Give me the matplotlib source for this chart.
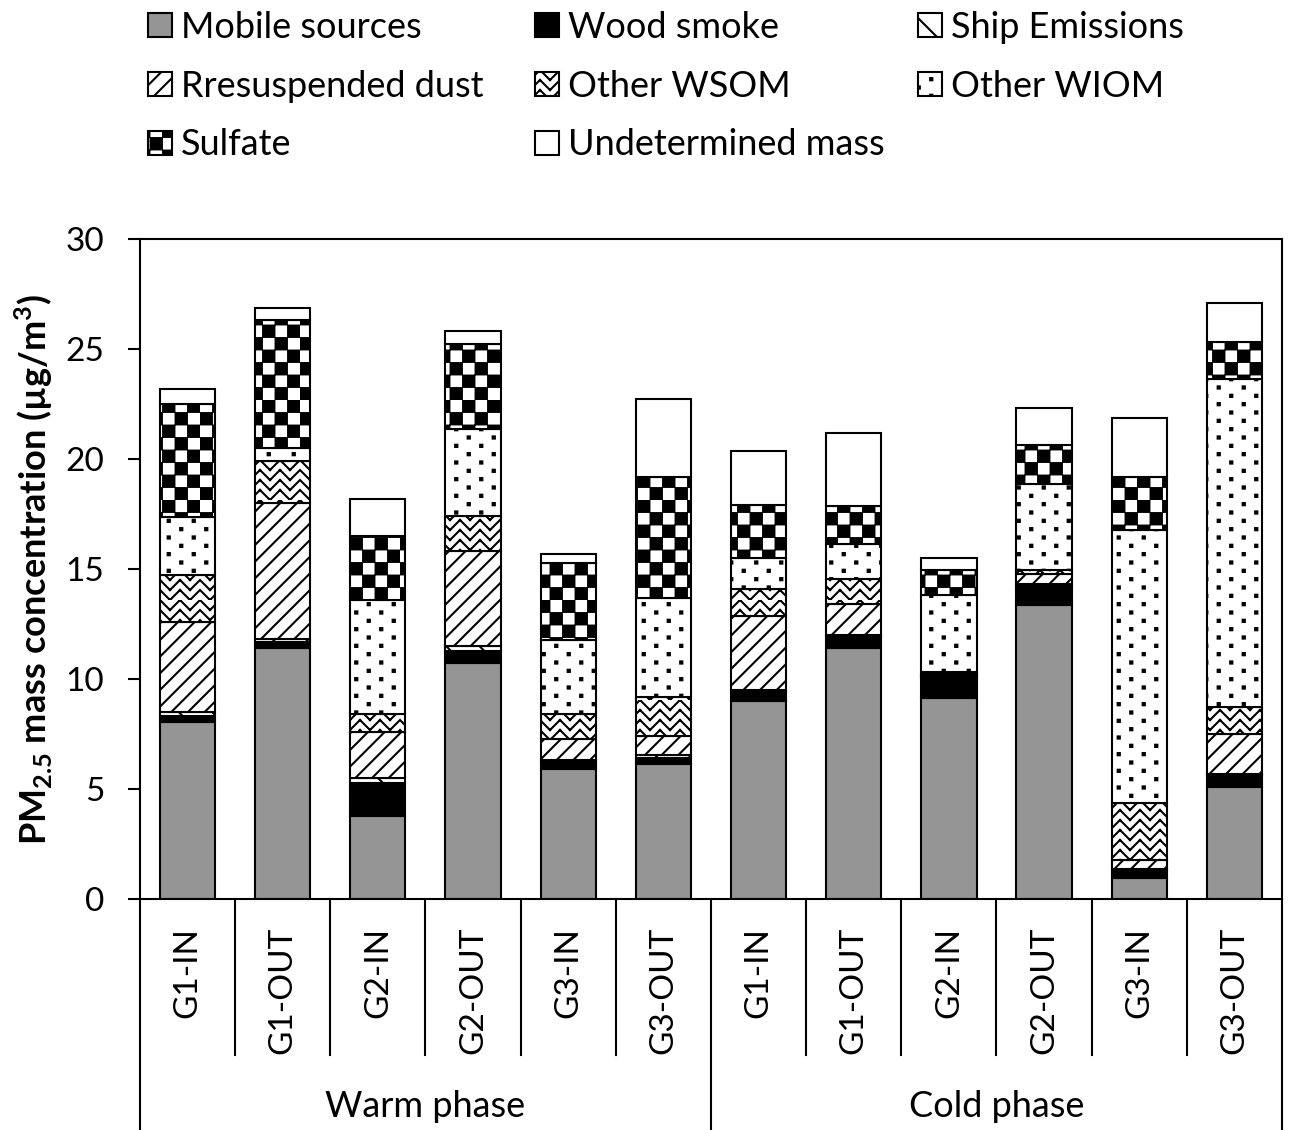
import warnings
import numpy as np
import matplotlib
matplotlib.use("Agg")
import matplotlib.pyplot as plt
import matplotlib.hatch as mhatch
from matplotlib.path import Path

warnings.filterwarnings("ignore")

# ---- data (µg/m3), stacked bottom -> top ----
categories = ["G1-IN", "G1-OUT", "G2-IN", "G2-OUT", "G3-IN", "G3-OUT"] * 2
phases = ["Warm phase", "Cold phase"]
sources = ["Mobile sources", "Wood smoke", "Ship Emissions", "Rresuspended dust",
           "Other WSOM", "Other WIOM", "Sulfate", "Undetermined mass"]

mobile       = [8.05, 11.40, 3.78, 10.74, 5.92, 6.14, 9.00, 11.43, 9.14, 13.35, 0.95, 5.10]
wood_smoke   = [0.25, 0.26, 1.49, 0.52, 0.35, 0.25, 0.40, 0.53, 0.95, 0.92, 0.37, 0.55]
ship         = [0.20, 0.17, 0.21, 0.23, 0.03, 0.14, 0.08, 0.05, 0.05, 0.06, 0.03, 0.05]
dust         = [4.07, 6.18, 2.09, 4.35, 0.96, 0.87, 3.40, 1.39, 0.10, 0.44, 0.42, 1.80]
other_wsom   = [2.17, 1.92, 0.82, 1.56, 1.15, 1.79, 1.22, 1.13, 0.08, 0.18, 2.61, 1.25]
other_wiom   = [2.61, 0.55, 5.22, 3.95, 3.37, 4.51, 1.39, 1.62, 3.48, 3.90, 12.39, 14.90]
sulfate      = [5.15, 5.85, 2.87, 3.88, 3.48, 5.48, 2.44, 1.72, 1.17, 1.78, 2.43, 1.65]
undetermined = [0.70, 0.52, 1.71, 0.61, 0.40, 3.57, 2.43, 3.31, 0.52, 1.68, 2.66, 1.80]

series = [mobile, wood_smoke, ship, dust, other_wsom, other_wiom, sulfate, undetermined]
faces = ["#959595", "black", "white", "white", "white", "white", "white", "white"]
hatches = ["", "", "\\", "//", "z", "d", "c", ""]


# ---- extra hatch patterns (checkerboard, sparse dots, herringbone) ----
class CheckerHatch(mhatch.HatchPatternBase):
    def __init__(self, hatch, density):
        self.n = hatch.count("c") * 8
        self.num_vertices = (self.n * self.n // 2) * 5

    def set_vertices_and_codes(self, vertices, codes):
        s = 1.0 / self.n
        g = 0.006
        k = 0
        for i in range(self.n):
            for j in range(self.n):
                if (i + j) % 2:
                    continue
                x0, y0, x1, y1 = i * s + g, j * s + g, (i + 1) * s - g, (j + 1) * s - g
                vertices[k:k + 5] = [(x0, y0), (x1, y0), (x1, y1), (x0, y1), (x0, y0)]
                codes[k:k + 5] = [Path.MOVETO, Path.LINETO, Path.LINETO, Path.LINETO, Path.CLOSEPOLY]
                k += 5


class DotHatch(mhatch.HatchPatternBase):
    def __init__(self, hatch, density):
        self.rows = hatch.count("d") * 12
        self.cols = 4
        self.num_vertices = self.rows * self.cols * 5

    def set_vertices_and_codes(self, vertices, codes):
        r = 0.011
        k = 0
        for i in range(self.rows):
            y = (i + 0.5) / self.rows
            for j in range(self.cols):
                x = (j + 0.25 + 0.5 * (i % 2)) / self.cols
                vertices[k:k + 5] = [(x - r, y - r), (x + r, y - r), (x + r, y + r), (x - r, y + r), (x - r, y - r)]
                codes[k:k + 5] = [Path.MOVETO, Path.LINETO, Path.LINETO, Path.LINETO, Path.CLOSEPOLY]
                k += 5


class ZigzagHatch(mhatch.HatchPatternBase):
    def __init__(self, hatch, density):
        self.rows = hatch.count("z") * 10
        self.periods = 5
        self.num_vertices = self.rows * self.periods * 4

    def set_vertices_and_codes(self, vertices, codes):
        p = 1.0 / self.periods
        h = 1.0 / self.rows
        k = 0
        for i in range(self.rows):
            y = i * h
            for j in range(self.periods):
                x0 = j * p
                vertices[k:k + 4] = [(x0, y + h), (x0 + p / 2, y), (x0 + p / 2, y), (x0 + p, y + h)]
                codes[k:k + 4] = [Path.MOVETO, Path.LINETO, Path.MOVETO, Path.LINETO]
                k += 4


mhatch._hatch_types.extend([CheckerHatch, DotHatch, ZigzagHatch])

plt.rcParams["font.family"] = ["Lato", "DejaVu Sans"]
plt.rcParams["mathtext.fontset"] = "custom"
plt.rcParams["mathtext.rm"] = "Lato"
plt.rcParams["mathtext.bf"] = "Lato:bold"
plt.rcParams["hatch.linewidth"] = 1.5

fig = plt.figure(figsize=(12.9, 11.3), dpi=100)
ax = fig.add_axes([0.1085, 0.2044, 0.8853, 0.5841])

x = np.arange(len(categories))
bottom = np.zeros(len(categories))
containers = []
for vals, lab, fc, h in zip(series, sources, faces, hatches):
    bc = ax.bar(x, vals, 0.58, bottom=bottom, color=fc, edgecolor="black",
                linewidth=1.5, hatch=h, label=lab)
    containers.append(bc)
    bottom += np.array(vals)

ax.set_xlim(-0.5, len(categories) - 0.5)
ax.set_ylim(0, 30)
ax.set_yticks(np.arange(0, 31, 5))
ax.tick_params(axis="y", labelsize=24, length=8.6, width=1.5, pad=17)
ax.set_xticks(x, categories, rotation=90)
ax.tick_params(axis="x", labelsize=24, length=0, pad=20)
for sp in ax.spines.values():
    sp.set_linewidth(1.5)

ax.set_ylabel(r"PM$_{\mathbf{2.5}}$ mass concentration (µg/m$^{\mathbf{3}}$)",
              fontsize=26, fontweight="bold")
ax.yaxis.set_label_coords(-0.074, 0.5)

# category separators below the axis
trans = ax.get_xaxis_transform()
per_group = len(categories) // len(phases)
for b in np.arange(-0.5, len(categories), 1.0):
    is_group = (b + 0.5) % per_group == 0
    ax.plot([b, b], [0, -0.35 if is_group else -0.236], color="black",
            lw=1.5, transform=trans, clip_on=False)
for k, ph in enumerate(phases):
    ax.text(k * per_group + (per_group - 1) / 2, -0.315, ph, transform=trans,
            ha="center", va="center", fontsize=26)

# legend laid out in rows, one legend per column
cols = [[0, 3, 6], [1, 4, 7], [2, 5]]
lefts = [148, 535, 918]
for idx, left in zip(cols, lefts):
    fig.legend([containers[i] for i in idx], [sources[i] for i in idx],
               loc="upper left", bbox_to_anchor=(left / 1290, 1 - 11 / 1130),
               frameon=False, fontsize=26, handlelength=0.67, handleheight=0.65,
               handletextpad=0.25, labelspacing=0.71, borderpad=0, borderaxespad=0)

fig.savefig("out.png", dpi=100)
